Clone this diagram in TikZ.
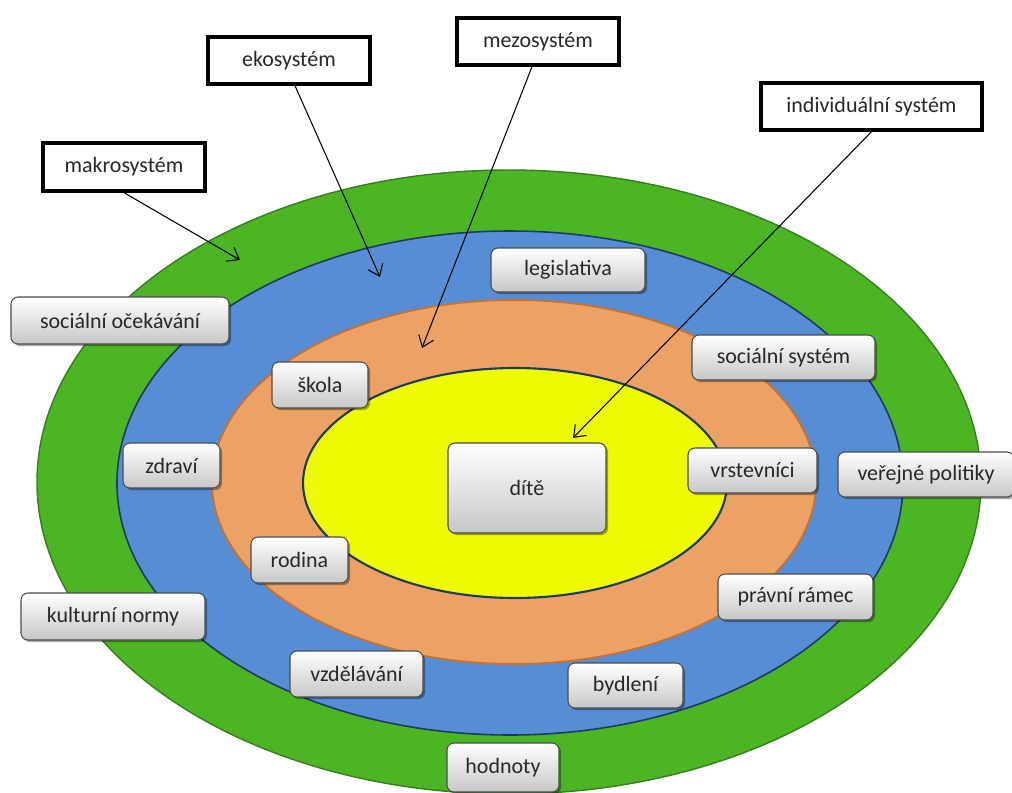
\documentclass[tikz,border=0pt]{standalone}
\usepackage{fontspec}
\setmainfont{Carlito}
\usetikzlibrary{arrows.meta,shadows}
\definecolor{cgreen}{RGB}{76,181,36}
\definecolor{cgreenline}{RGB}{58,125,30}
\definecolor{cblue}{RGB}{86,141,212}
\definecolor{cnavy}{RGB}{28,58,98}
\definecolor{corange}{RGB}{236,162,100}
\definecolor{corangeline}{RGB}{205,112,40}
\definecolor{cyellow}{RGB}{238,250,0}
\definecolor{ctext}{RGB}{40,40,40}
\newcommand\mybox[7]{\node[#1, minimum width={(#4-#2)*0.02cm}, minimum height={(#5-#3)*0.02cm}] (#6) at ({(#2+#4)/2},{(#3+#5)/2}) {#7};}
\begin{document}
\begin{tikzpicture}[x=0.02cm,y=-0.02cm,
 lbl/.style={draw=black, line width=1.9pt, fill=white, inner sep=0pt, font=\fontsize{12.5}{14}\selectfont, text=ctext},
 item/.style={draw=black!70, line width=0.6pt, rounded corners=4pt, top color=white, bottom color=black!22, inner sep=0pt, font=\fontsize{12.5}{14}\selectfont, text=ctext, drop shadow={shadow xshift=1.2pt, shadow yshift=-1.2pt, opacity=0.35, fill=black}},
 arr/.style={-{Straight Barb[length=6pt,width=9pt]}, line width=0.6pt, black}
]
\useasboundingbox (0,0) rectangle (1012,792);
% rings
\draw[fill=cgreen, draw=cgreenline, line width=0.8pt] (509,482) ellipse [x radius=472, y radius=312];
\draw[fill=cblue, draw=cnavy, line width=0.9pt] (510,483) ellipse [x radius=393, y radius=252];
\draw[fill=corange, draw=corangeline, line width=1pt] (514,482) ellipse [x radius=302, y radius=182];
\draw[fill=cyellow, draw=cnavy, line width=1.2pt] (515,483) ellipse [x radius=212, y radius=115];
% label boxes
\mybox{lbl}{43}{143}{205}{191}{mak}{makrosystém}
\mybox{lbl}{208}{37}{370}{84}{eko}{ekosystém}
\mybox{lbl}{457}{18}{619}{65}{mez}{mezosystém}
\mybox{lbl}{761}{83}{982}{130}{ind}{individuální systém}
% arrow targets
\coordinate (tmak) at (240,260);
\coordinate (teko) at (380,277);
\coordinate (tmez) at (422,348);
\coordinate (tind) at (573,438);
\draw[arr] (mak.south) -- (tmak);
\draw[arr] (eko.south) ++(6,0) -- (teko);
\draw[arr] (mez.south) ++(-6,0) -- (tmez);
\draw[arr] (ind.south) -- (tind);
% items
\mybox{item}{491}{248}{645}{292}{leg}{legislativa}
\mybox{item}{11}{297}{229}{344}{soc}{sociální očekávání}
\mybox{item}{692}{335}{875}{380}{socs}{sociální systém}
\mybox{item}{272}{362}{368}{408}{sko}{škola}
\mybox{item}{123}{443}{220}{488}{zdr}{zdraví}
\mybox{item}{448}{443}{606}{533}{dit}{dítě}
\mybox{item}{688}{448}{817}{493}{vrs}{vrstevníci}
\mybox{item}{838}{452}{1014}{497}{ver}{veřejné politiky}
\mybox{item}{251}{537}{348}{583}{rod}{rodina}
\mybox{item}{21}{593}{205}{640}{kul}{kulturní normy}
\mybox{item}{718}{574}{873}{620}{pra}{právní rámec}
\mybox{item}{290}{651}{423}{697}{vzd}{vzdělávání}
\mybox{item}{568}{663}{683}{708}{byd}{bydlení}
\mybox{item}{447}{743}{559}{792}{hod}{hodnoty}
\end{tikzpicture}
\end{document}
